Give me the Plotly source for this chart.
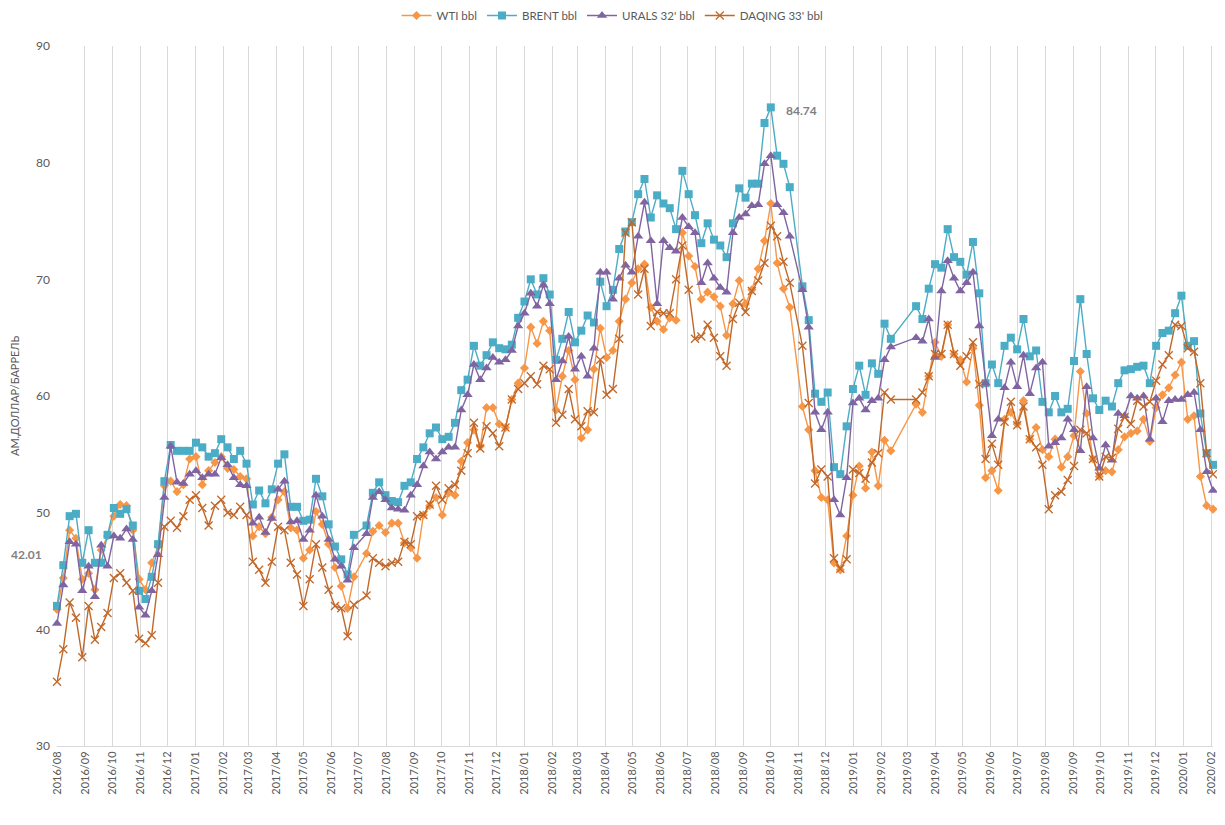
import pandas as pd
import plotly.graph_objects as go

N = None
# weekly observation dates
dates = pd.date_range("2016-08-05", periods=184, freq="7D")

wti = [
    41.7, 44.4, 48.5, 47.8, 44.3, 44.8, 43.4, 46.8, 48.0, 49.7, 50.7, 50.6, 48.5, 44.3, 43.4, 45.7, 47.1, 52.3, 52.7, 51.8, 52.4, 54.6, 54.8, 52.4, 53.6, 54.3, 54.8, 53.8, 53.7,
    53.1, 52.9, 48.0, 48.8, 48.2, 49.6, 51.1, 51.8, 48.7, 48.5, 46.1, 46.8, 50.1, 49.0, 47.3, 45.3, 43.7, 41.8, 44.5, N, 46.5, 48.4, 48.9, 48.3,
    49.1, 49.1, 47.4, 47.0, 46.1, 49.8, 50.6, 51.3, 49.8, 51.7, 51.5, 54.4, 56.0, 57.1, 55.7, 59.0, 59.0, 57.6, 57.3, 59.7, 61.1, 62.4, 65.9,
    64.5, 66.4, 65.6, 58.8, 61.7, 63.9, 61.4, 56.4, 57.1, 62.3, 65.8, 63.3, 63.9, 66.4, 68.3, 69.7, 70.9, 71.3, 67.6, 66.4, 65.7, 66.7, 66.5,
    74.0, 72.0, 71.1, 68.3, 68.9, 68.5, 67.7, 65.2, 67.9, 69.9, 67.9, 69.1, 70.9, 73.3, 76.5, 71.4, 69.2, 67.6, N, 59.1, 57.1, 53.6, 51.3, 51.1,
    45.7, 45.1, 48.0, 51.5, 54.0, 52.1, 55.2, 52.3, 56.2, 55.3, N, N, N, 59.3, 58.6, 61.7, 64.6, 63.4, 66.1, 63.6, 63.1, 61.2, 64.1, 59.2,
    53.0, 53.6, 51.9, 58.0, 58.6, 57.6, 59.6, 56.3, 57.3, 55.4, 54.8, 56.3, 53.9, 54.8, 56.6, 62.1, 58.5, 54.6, 53.1, 53.6, 53.5,
    55.4, 56.5, 56.8, 57.0, 58.0, 56.1, 59.0, 60.1, 60.7, 61.8, 62.9, 58.0, 58.3, 53.1, 50.6, 50.3,
]

brent = [
    42.01, 45.5, 49.7, 49.9, 45.7, 48.5, 45.7, 45.7, 48.1, 50.4, 49.9, 50.3, 48.9, 43.3, 42.6, 44.5, 47.3, 52.7, 55.8, 55.3, 55.3, 55.3, 56.0, 55.6, 54.8, 55.1, 56.3, 55.6, 54.6,
    55.3, 54.2, 50.7, 51.9, 50.8, 52.0, 54.2, 55.0, 50.5, 50.5, 49.3, 49.4, 52.9, 51.4, 49.0, 47.1, 46.0, 44.7, 48.1, N, 48.9, 51.7, 52.6, 51.5,
    51.0, 50.9, 52.3, 52.6, 54.6, 55.6, 56.8, 57.3, 56.3, 56.5, 57.7, 60.5, 61.4, 64.3, 62.6, 63.5, 64.6, 64.1, 64.0, 64.4, 66.7, 68.1, 70.0,
    68.7, 70.1, 68.7, 63.1, 64.9, 67.2, 64.6, 65.6, 66.9, 66.3, 69.8, 67.7, 69.1, 72.6, 74.1, 74.9, 77.3, 78.6, 75.3, 77.2, 76.5, 76.1, 74.3,
    79.3, 77.3, 75.5, 73.1, 74.8, 73.4, 72.9, 71.9, 74.8, 77.8, 77.0, 78.2, 78.2, 83.4, 84.74, 80.6, 79.9, 77.9, N, 69.4, 66.5, 60.2, 59.5, 60.3,
    53.9, 53.3, 57.4, 60.6, 62.6, 60.1, 62.8, 61.9, 66.2, 64.9, N, N, N, 67.7, 66.6, 69.2, 71.3, 71.0, 74.3, 71.9, 71.5, 70.4, 73.2, 68.8,
    61.1, 62.7, 61.1, 64.3, 65.0, 64.0, 66.6, 63.4, 63.9, 59.5, 58.6, 60.0, 58.6, 58.9, 63.0, 68.3, 63.6, 59.8, 58.8, 59.6, 59.1,
    61.1, 62.2, 62.3, 62.5, 62.6, 61.1, 64.3, 65.4, 65.6, 67.1, 68.6, 64.3, 64.7, 58.5, 55.1, 54.1,
]

urals = [
    40.5, 43.8, 47.5, 47.3, 43.3, 45.4, 42.8, 47.2, 45.4, 48.0, 47.8, 48.6, 47.7, 41.9, 41.2, 43.3, 46.4, 51.3, 55.7, 52.6, 52.5, 53.3, 53.6, 53.0, 53.3, 53.3, 54.7, 54.1, 53.0,
    52.4, 52.3, 49.1, 49.6, 48.3, 49.5, 52.0, 52.7, 49.2, 49.3, 47.7, 48.5, 51.5, 49.7, 47.7, 46.0, 45.4, 44.2, 47.0, N, 48.2, 51.3, 51.8, 51.1,
    50.4, 50.3, 50.2, 51.5, 52.4, 54.0, 55.2, 54.6, 55.2, 55.6, 55.6, 58.8, 60.1, 62.7, 61.4, 62.4, 63.3, 62.9, 63.1, 63.9, 66.0, 67.1, 68.8,
    67.7, 69.5, 67.9, 61.4, 63.0, 65.1, 62.3, 63.4, 61.7, 64.1, 70.6, 70.6, 68.3, 70.1, 71.2, 70.6, 73.7, 76.6, 73.3, 67.9, 73.3, 72.7, 72.4,
    75.3, 74.5, 74.0, 69.7, 71.4, 70.1, 69.3, 68.9, 74.0, 75.3, 75.6, 76.3, 76.4, 79.9, 80.6, 76.4, 75.7, 73.7, N, 69.1, 65.9, 58.6, 57.1, 58.6,
    51.1, 49.8, 53.0, 59.4, 59.8, 58.8, 59.6, 59.8, 63.1, 64.2, N, N, N, 65.0, 64.7, 66.6, 63.3, 69.0, 71.6, 70.1, 69.0, 69.7, 70.6, 66.0,
    61.1, 56.6, 58.0, 60.7, 62.9, 60.8, 63.5, 60.2, 62.4, 62.9, 55.7, 56.0, 56.4, 58.0, 57.1, 55.3, 60.8, 56.4, 53.8, 55.8, 54.5,
    58.5, 58.3, 60.0, 59.8, 60.0, 56.3, 59.8, 57.8, 59.6, 59.7, 59.7, 60.1, 60.3, 57.1, 53.5, 51.9,
]

daqing = [
    35.5, 38.3, 42.3, 41.0, 37.6, 42.0, 39.1, 40.2, 41.4, 44.4, 44.8, 44.0, 43.3, 39.2, 38.8, 39.5, 44.0, 48.8, 49.3, 48.7, 49.7, 51.1, 51.5, 50.4, 48.9, 50.6, 51.1, 50.0, 49.8,
    50.5, 49.8, 45.8, 45.1, 44.0, 45.8, 48.8, 48.5, 45.7, 44.7, 42.0, 44.3, 47.3, 45.3, 43.4, 42.0, 41.8, 39.4, 42.1, N, 42.9, 46.1, 45.7, 45.4,
    45.7, 45.8, 47.5, 47.3, 49.7, 49.8, 50.7, 52.3, 51.1, 52.1, 52.4, 53.6, 55.1, 57.7, 55.5, 57.4, 56.8, 55.7, 57.3, 59.7, 60.6, 61.1, 61.7,
    61.0, 62.6, 62.3, 57.7, 58.4, 60.6, 58.0, 57.4, 58.7, 58.6, 63.1, 60.1, 60.6, 64.9, 74.0, 74.9, 68.7, 70.9, 66.0, 67.2, 67.1, 67.1, 70.0,
    72.9, 69.1, 64.9, 65.1, 66.1, 65.0, 63.4, 62.6, 66.6, 68.0, 67.2, 69.0, 69.9, 71.4, 74.6, 73.7, 71.5, 69.7, N, 64.3, 59.4, 52.5, 53.7, 53.1,
    46.1, 45.2, 46.0, 53.7, 53.4, 52.9, 54.3, 55.1, 60.3, 59.7, N, N, N, 59.7, 60.3, 61.7, 63.6, 63.6, 66.1, 63.6, 62.6, 63.4, 64.6, 61.0,
    54.6, 55.9, 54.1, 57.8, 59.5, 57.5, 59.1, 56.3, 55.6, 54.1, 50.3, 51.5, 51.8, 52.8, 54.0, 57.1, 56.8, 54.6, 53.1, 54.8, 54.7,
    57.2, 58.2, 57.6, 59.6, 59.1, 59.5, 61.3, 62.7, 63.5, 66.1, 66.0, 64.1, 63.8, 61.1, 55.1, 53.3,
]

names = ["WTI bbl", "BRENT bbl", "URALS 32' bbl", "DAQING 33' bbl"]
colors = ["#F79646", "#4BACC6", "#8064A2", "#C0682A"]
y_ticks = [30, 40, 50, 60, 70, 80, 90]
y_range = [30, 90]
y_title = "АМ.ДОЛЛАР/БАРРЕЛЬ"
FONT = "Lato, 'Open Sans', sans-serif"
GREY = "#595959"

W, H = 1209, 809
M = dict(l=49, r=4, t=38, b=71)
plot_w = W - M["l"] - M["r"]
plot_h = H - M["t"] - M["b"]

fig = go.Figure()
series = [wti, brent, urals, daqing]
markers = [
    dict(symbol="diamond", size=7, color=colors[0], line=dict(width=0)),
    dict(symbol="square", size=8, color=colors[1], line=dict(width=0)),
    dict(symbol="triangle-up", size=9, color=colors[2], line=dict(width=0)),
    dict(symbol="x-thin-open", size=8, color=colors[3], line=dict(width=1.3, color=colors[3])),
]
for name, vals, col, mk in zip(names, series, colors, markers):
    fig.add_trace(go.Scatter(
        x=dates, y=vals, name=name, mode="lines+markers",
        line=dict(color=col, width=1.4), marker=mk,
        connectgaps=True, cliponaxis=False,
    ))

# value labels
imax = max(range(len(brent)), key=lambda i: brent[i] if brent[i] is not None else -1)
fig.add_annotation(x=dates[imax], y=brent[imax], text=f"<b>{brent[imax]:.2f}</b>",
                   showarrow=True, arrowcolor="rgba(0,0,0,0)", arrowwidth=0.1,
                   ax=31, ay=3, xanchor="center", yanchor="middle",
                   font=dict(family=FONT, size=12, color="#7F7F7F"))
# first value label sits in the left margin, above-left of the first point
first_frac = (brent[0] - y_range[0]) / (y_range[1] - y_range[0])
fig.add_annotation(xref="paper", yref="paper",
                   x=-31 / plot_w, y=first_frac + 51 / plot_h,
                   text=f"<b>{brent[0]:.2f}</b>", showarrow=False,
                   xanchor="center", yanchor="middle",
                   font=dict(family=FONT, size=12, color="#7F7F7F"))

# page body adds an 8px offset; the figure is sized to fit inside the window
fig.update_layout(
    width=W, height=H,
    paper_bgcolor="white", plot_bgcolor="white",
    margin=dict(**M, autoexpand=False),
    font=dict(family=FONT, size=11, color=GREY),
    legend=dict(orientation="h", xref="container", x=0.5, xanchor="center",
                yref="paper", y=1 + 30.5 / plot_h, yanchor="middle",
                font=dict(size=11.5, color=GREY),
                itemwidth=30, tracegroupgap=0),
    showlegend=True,
)
fig.update_xaxes(
    type="date",
    range=[dates[0], dates[-1]],
    tick0=dates[0], dtick="M1", tickformat="%Y/%m",
    tickangle=-90, showgrid=True, gridcolor="#D9D9D9", gridwidth=1,
    showline=True, linecolor="#D9D9D9", ticks="", zeroline=False,
    tickfont=dict(size=11, color=GREY),
)
fig.update_yaxes(
    range=y_range, tickvals=y_ticks, showgrid=False, zeroline=False,
    showline=False, ticks="", tickfont=dict(size=12, color=GREY),
    ticklabelstandoff=6,
    title=dict(text=y_title, font=dict(size=11, color=GREY), standoff=27),
)
fig.write_html("out.html")
